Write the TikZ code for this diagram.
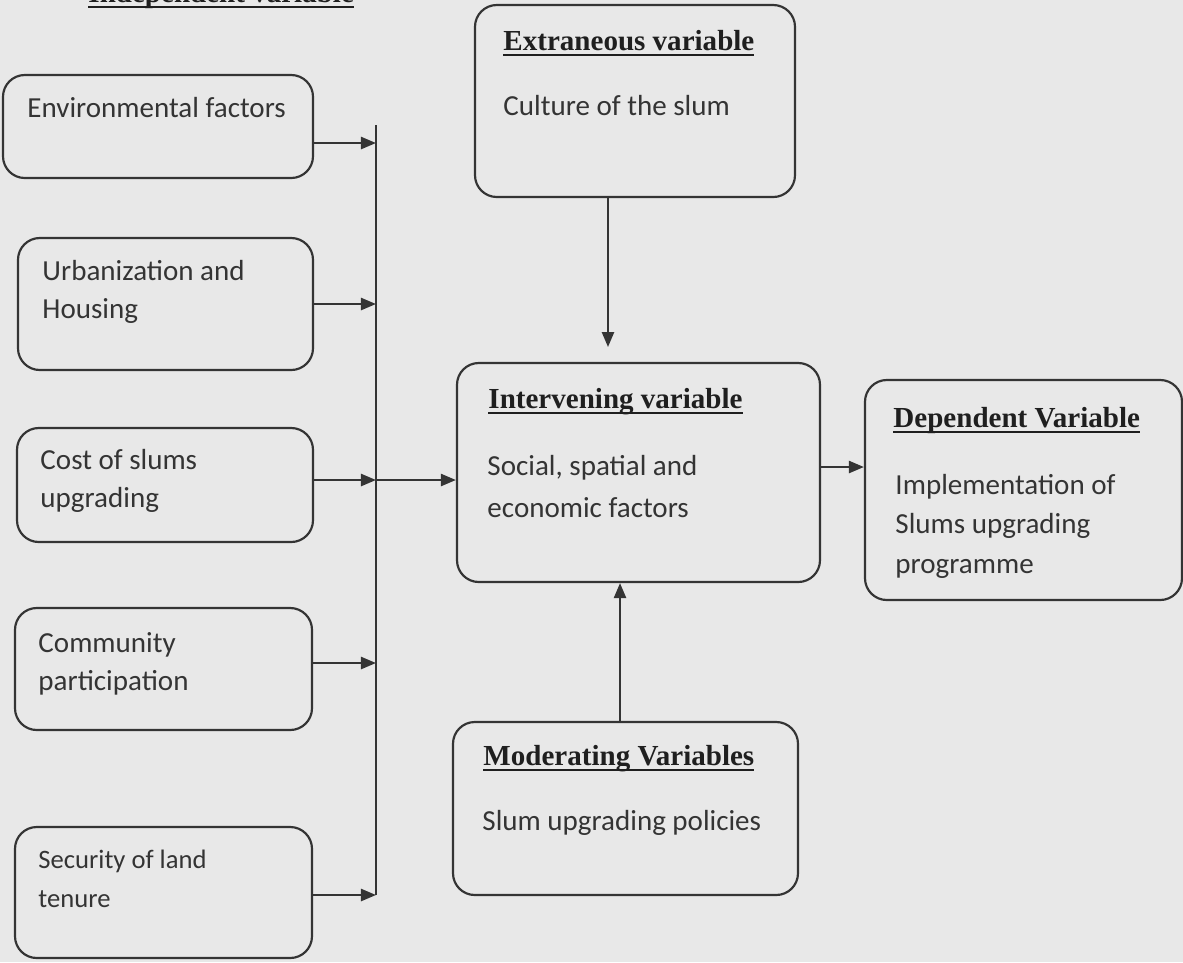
\documentclass[tikz,border=0pt]{standalone}
\usepackage{fontspec}
\setmainfont{Carlito}
\newfontfamily\headfont{Liberation Serif}
\usetikzlibrary{arrows.meta,fit}

\definecolor{paper}{RGB}{232,232,232}
\definecolor{ink}{RGB}{52,52,52}

% underline at a fixed depth, as the word processor draws it
\newcommand\headul[1]{\setbox0\hbox{#1}\rlap{\rule[-2.5pt]{\wd0}{0.9pt}}\box0}

\tikzset{
    varbox/.style = {draw = ink, line width = 0.9pt, rounded corners = 9pt, inner sep = 0pt},
    boxtext/.style = {anchor = base west, align = left, inner sep = 0pt, text = ink,
        font = \fontsize{12}{15.3}\selectfont},
    headtext/.style = {anchor = base west, inner sep = 0pt, text = black!88,
        font = \headfont\bfseries\fontsize{12}{14}\selectfont},
    flow/.style = {draw = ink, line width = 0.9pt, -{Triangle[length = 6.2pt, width = 5pt]}},
}

\begin{document}
\begin{tikzpicture}[x = 0.41322pt, y = -0.41322pt]
    \useasboundingbox (0, 0) rectangle (1183, 962);
    \clip (0, 0) rectangle (1183, 962);
    \fill [paper] (0, 0) rectangle (1183, 962);

    \node [headtext] (indep-h) at (88, 2) {\headul{Independent variable}};

    % independent variables (multi-line texts sit on their last baseline)
    \node [varbox, fit = {(3, 75) (313, 178)}] (env) {};
    \node [boxtext] (env-t) at (27, 117) {Environmental factors};
    \node [varbox, fit = {(18, 238) (313, 370)}] (urb) {};
    \node [boxtext] (urb-t) at (42, 318) {Urbanization and\\Housing};
    \node [varbox, fit = {(17, 428) (313, 542)}] (cost) {};
    \node [boxtext] (cost-t) at (40, 507) {Cost of slums\\upgrading};
    \node [varbox, fit = {(15, 608) (312, 730)}] (comm) {};
    \node [boxtext] (comm-t) at (38, 690) {Community\\participation};
    \node [varbox, fit = {(15, 827) (312, 958)}] (sec) {};
    \node [boxtext, font = \fontsize{11}{16}\selectfont] (sec-t) at (38, 907) {Security of land\\tenure};

    % the other variables
    \node [varbox, fit = {(475, 5) (795, 197)}] (ext) {};
    \node [headtext] (ext-h) at (503, 50) {\headul{Extraneous variable}};
    \node [boxtext] (ext-t) at (503, 115) {Culture of the slum};

    \node [varbox, fit = {(457, 363) (820, 582)}] (inter) {};
    \node [headtext] (inter-h) at (488, 408) {\headul{Intervening variable}};
    \node [boxtext, font = \fontsize{12}{17.2}\selectfont] (inter-t) at (487, 517) {Social, spatial and\\economic factors};

    \node [varbox, fit = {(865, 380) (1182, 600)}] (dep) {};
    \node [headtext] (dep-h) at (893, 427) {\headul{Dependent Variable}};
    \node [boxtext, font = \fontsize{12}{16.3}\selectfont] (dep-t) at (895, 573) {Implementation of\\Slums upgrading\\programme};

    \node [varbox, fit = {(453, 722) (798, 895)}] (mod) {};
    \node [headtext] (mod-h) at (483, 765) {\headul{Moderating Variables}};
    \node [boxtext] (mod-t) at (482, 830) {Slum upgrading policies};

    % connectors
    \coordinate (bus-top) at (376, 125);
    \foreach \v/\y in {env/143, urb/304, cost/480, comm/663, sec/895} {
        \coordinate (\v-in) at (376, \y);
        \draw [flow] (\v.east |- \v-in) -- (\v-in);
    }
    \draw [draw = ink, line width = 0.9pt] (bus-top) -- (sec-in);
    \draw [flow] (cost-in) -- (inter.west |- cost-in);

    \coordinate (ext-out) at (608, 347);
    \draw [flow] (ext.south -| ext-out) -- (ext-out);
    \coordinate (lvl-dep) at (0, 467);
    \draw [flow] (inter.east |- lvl-dep) -- (dep.west |- lvl-dep);
    \coordinate (mod-out) at (620, 0);
    \draw [flow] (mod.north -| mod-out) -- (inter.south -| mod-out);
\end{tikzpicture}
\end{document}
